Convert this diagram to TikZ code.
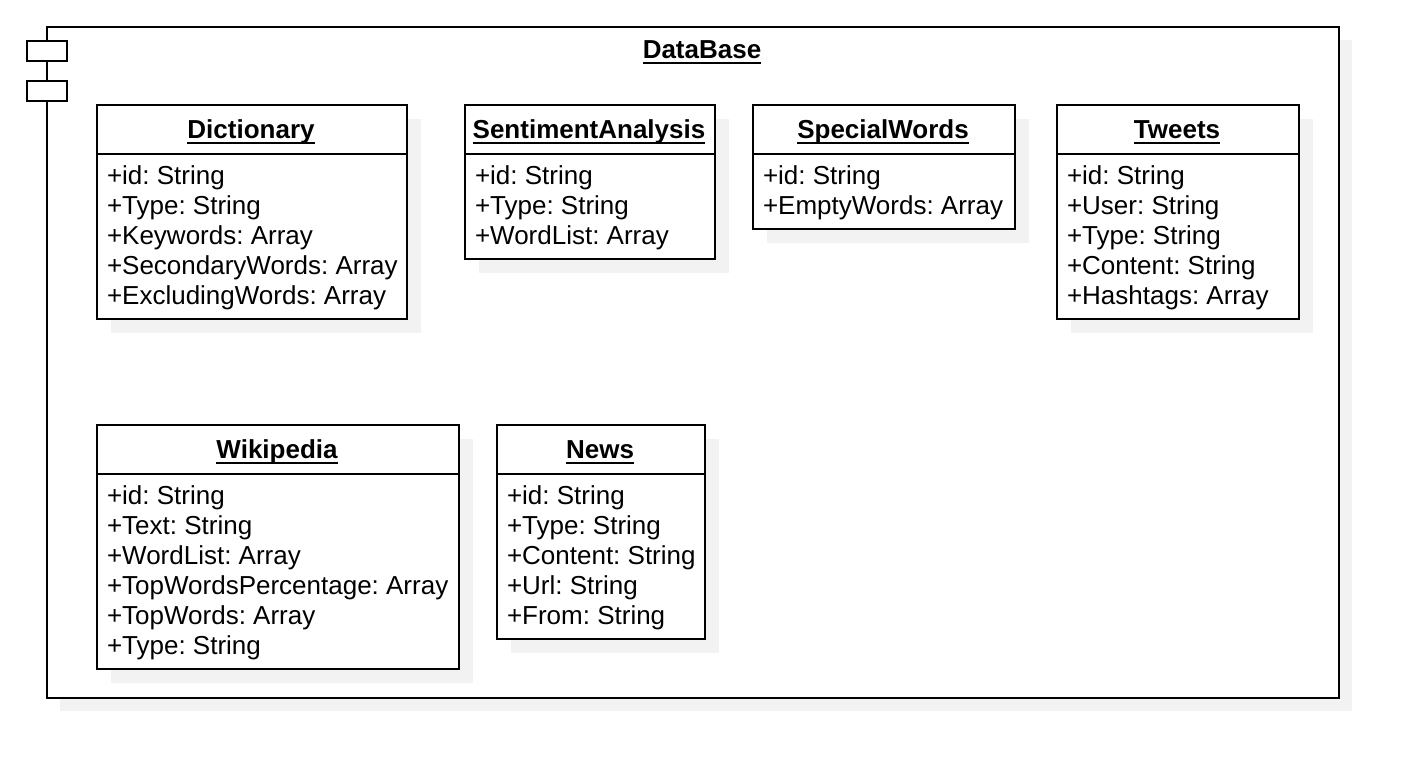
\documentclass[tikz,border=0pt]{standalone}
\usepackage{fontspec}
\setmainfont{Liberation Sans}
\usetikzlibrary{shadows}
\frenchspacing
\newcommand\ulx[1]{\setbox0\hbox{#1}\rlap{\rule[-6pt]{\wd0}{2pt}}\box0}
\tikzset{
  shadowc/.style={fill=black!5},
  classbox/.style={draw, fill=white, inner sep=0pt, anchor=north west,
    general shadow={fill=black!5, shadow xshift=14pt, shadow yshift=-14pt}},
  clstitle/.style={anchor=base, inner sep=0pt, font=\fontsize{26}{30}\selectfont\bfseries\frenchspacing},
  attr/.style={anchor=base west, inner sep=0pt, font=\fontsize{26}{30}\selectfont\frenchspacing},
}
% name, x1, y1, x2, y2, title, attributes
\newcommand\umlbox[7]{%
  \node[classbox, minimum width={#4-#2}, minimum height={#5-#3}] (#1) at (#2,#3) {};
  \draw (#1.west |- 0,#3+50) -- (#1.east |- 0,#3+50);
  \node[clstitle] (#1-t) at ({(#2+#4)/2},#3+34) {\ulx{#6}};
  \foreach \a [count=\i from 0] in {#7}{
    \node[attr] (#1-a\i) at (#2+10,#3+80+30*\i) {\a};
  }
}
\begin{document}
\begin{tikzpicture}[x=1pt,y=-1pt,line width=2pt]
\useasboundingbox (0,0) rectangle (1412,772);
% component frame
\fill[shadowc] (60,40) rectangle (1352,711);
\node[draw, fill=white, inner sep=0pt, anchor=north west, minimum width=1292pt, minimum height=671pt] (db) at (46,26) {};
\node[draw, fill=white, inner sep=0pt, anchor=north west, minimum width=40pt, minimum height=20pt] (icon1) at (26,40) {};
\node[draw, fill=white, inner sep=0pt, anchor=north west, minimum width=40pt, minimum height=20pt] (icon2) at (26,80) {};
\node[clstitle] (db-t) at (702,58) {\ulx{DataBase}};
% classes
\umlbox{dict}{96}{104}{406}{318}{Dictionary}{+id: String,+Type: String,+Keywords: Array,+SecondaryWords: Array,+ExcludingWords: Array}
\umlbox{senti}{464}{104}{714}{258}{SentimentAnalysis}{+id: String,+Type: String,+WordList: Array}
\umlbox{special}{752}{104}{1014}{228}{SpecialWords}{+id: String,+EmptyWords: Array}
\umlbox{tweets}{1056}{104}{1298}{318}{Tweets}{+id: String,+User: String,+Type: String,+Content: String,+Hashtags: Array}
\umlbox{wiki}{96}{424}{458}{668}{Wikipedia}{+id: String,+Text: String,+WordList: Array,+TopWordsPercentage: Array,+TopWords: Array,+Type: String}
\umlbox{news}{496}{424}{704}{638}{News}{+id: String,+Type: String,+Content: String,+Url: String,+From: String}
\end{tikzpicture}
\end{document}
